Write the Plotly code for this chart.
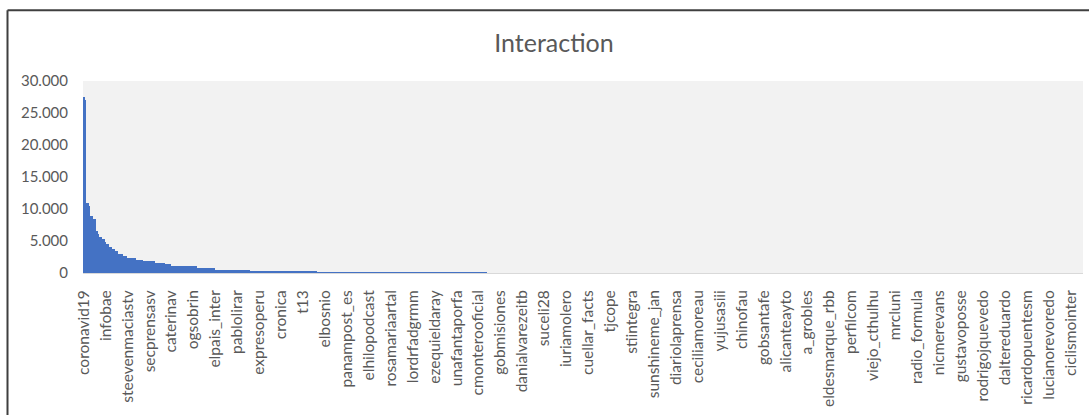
import numpy as np
import plotly.graph_objects as go

# Accounts ranked by interaction; only every 15th account name is printed on the axis
label_step = 15
tick_labels = [
    "coronavid19", "infobae", "steevenmaciastv", "secprensasv", "caterinav",
    "ogsobrin", "elpais_inter", "pablolirar", "expresoperu", "cronica", "t13",
    "elbosnio", "panampost_es", "elhilopodcast", "rosamariaartal", "lordrfadgrmm",
    "ezequieldaray", "unafantaporfa", "cmonterooficial", "gobmisiones",
    "danialvarezeitb", "suceli28", "iuriamolero", "cuellar_facts", "tjcope",
    "stiintegra", "sunshineme_jan", "diariolaprensa", "ceciliamoreau",
    "yujusasiii", "chinofau", "gobsantafe", "alicanteayto", "a_grobles",
    "eldesmarque_rbb", "perfilcom", "viejo_cthulhu", "mrcluni", "radio_formula",
    "nicmerevans", "gustavoposse", "rodrigojquevedo", "daltereduardo",
    "ricardopuentesm", "lucianorevoredo", "ciclismointer",
]

# Interaction per account, stored as runs: value and number of consecutive accounts
run_values = [27500, 27000, 11000, 10500, 8900, 8400, 6500, 6050, 5700, 5250,
              4900, 4500, 4000, 3700, 3400, 3000, 2700, 2400, 2100, 1850,
              1600, 1350, 1100, 830, 470, 200, 120, 0]
run_counts = [1, 1, 2, 1, 2, 2, 1, 1, 2, 2,
              1, 2, 2, 2, 2, 3, 3, 6, 5, 8,
              7, 4, 18, 12, 24, 46, 116, 408]

interaction = np.repeat(run_values, run_counts)
rank = np.arange(len(interaction))
tick_positions = [i * label_step for i in range(len(tick_labels))]

font_family = "Lato, 'Open Sans', sans-serif"
text_grey = "#595959"

fig = go.Figure(
    go.Bar(
        x=rank,
        y=interaction,
        marker=dict(color="#4472C4", line=dict(width=0)),
        hoverinfo="y",
    )
)

fig.update_layout(
    width=1089,
    height=415,
    margin=dict(l=83, r=6, t=81, b=142),
    paper_bgcolor="white",
    plot_bgcolor="#F2F2F2",
    bargap=0,
    separators=",.",
    showlegend=False,
    title=dict(
        text="Interaction",
        x=554 / 1089,
        xanchor="center",
        xref="container",
        y=1 - 43 / 415,
        yanchor="middle",
        font=dict(family=font_family, size=25, color=text_grey),
    ),
    font=dict(family=font_family, color=text_grey),
)

fig.update_xaxes(
    range=[-0.5, len(interaction) - 0.5],
    tickmode="array",
    tickvals=tick_positions,
    ticktext=tick_labels,
    tickangle=-90,
    tickfont=dict(size=15.5, color=text_grey),
    ticklabelstandoff=10,
    showgrid=False,
    zeroline=False,
    showline=True,
    linecolor="#D9D9D9",
    linewidth=1,
    ticks="",
)

fig.update_yaxes(
    range=[0, 30000],
    tickmode="linear",
    tick0=0,
    dtick=5000,
    tickformat=",d",
    tickfont=dict(size=15, color=text_grey),
    ticklabelstandoff=14,
    showgrid=False,
    zeroline=False,
    showline=False,
    ticks="",
)

# Chart frame (top and left edges)
frame_left = (7.5 - 83) / 1000
frame_top = (272.5 - 10.5) / 191.5
fig.add_shape(type="line", xref="paper", yref="paper",
              x0=frame_left, x1=frame_left, y0=-1, y1=frame_top,
              line=dict(color="#3F3F3F", width=2))
fig.add_shape(type="line", xref="paper", yref="paper",
              x0=frame_left, x1=1.2, y0=frame_top, y1=frame_top,
              line=dict(color="#3F3F3F", width=2))

fig.write_html("out.html")
